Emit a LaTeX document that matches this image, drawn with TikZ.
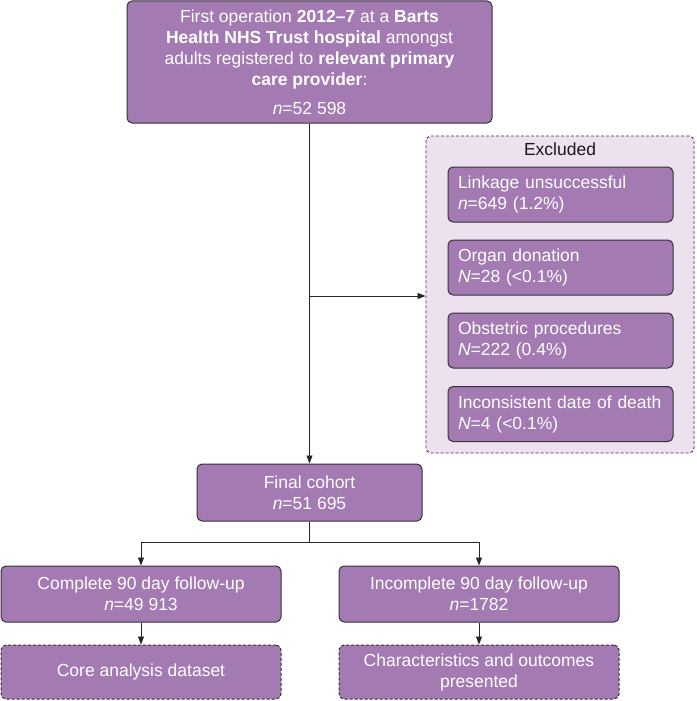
\documentclass[tikz,border=0pt]{standalone}
\usepackage{fontspec}
\setmainfont{Liberation Sans}
\usetikzlibrary{arrows.meta}
\definecolor{boxfill}{RGB}{163,122,178}
\definecolor{exfill}{RGB}{238,225,239}
\definecolor{edge}{RGB}{55,48,58}
\begin{document}
\begin{tikzpicture}[x=1pt,y=-1pt,
  box/.style={draw=edge, line width=1pt, fill=boxfill, rounded corners=5pt, text=white,
    font=\fontsize{17.5}{21}\selectfont, inner sep=0pt, align=center},
  dbox/.style={box, dash pattern=on 3pt off 2pt},
  exbox/.style={box, align=left, text width=205pt, inner xsep=10pt, minimum width=225pt, minimum height=55pt},
  arr/.style={draw=black!85, line width=0.8pt, -{Triangle[length=8pt,width=6pt]}},
  ln/.style={draw=black!85, line width=0.8pt}]
\useasboundingbox (0,0) rectangle (696,701);

\node[box, minimum width=365pt, minimum height=122pt] (top) at (309.5,62)
  {First operation \textbf{2012–7} at a \textbf{Barts}\\
   \textbf{Health NHS Trust hospital} amongst\\
   adults registered to \textbf{relevant primary}\\
   \textbf{care provider}:\\[8pt]
   \textit{n}=52 598};

\node[draw=edge, line width=0.9pt, dash pattern=on 3pt off 2pt, fill=exfill, rounded corners=5pt,
  minimum width=268pt, minimum height=317pt, inner sep=0pt] (excl) at (560,294.5) {};
\node[font=\fontsize{17.5}{21}\selectfont, text=black!90] (exlabel) at (560,149) {Excluded};

\node[exbox] (e1) at (560.5,194.5) {Linkage unsuccessful\\\textit{n}=649 (1.2\%)};
\node[exbox] (e2) at (560.5,267.5) {Organ donation\\\textit{N}=28 (<0.1\%)};
\node[exbox] (e3) at (560.5,340.5) {Obstetric procedures\\\textit{N}=222 (0.4\%)};
\node[exbox] (e4) at (560.5,414) {Inconsistent date of death\\\textit{N}=4 (<0.1\%)};

\node[box, minimum width=225pt, minimum height=57pt] (final) at (309.5,492.5)
  {Final cohort\\\textit{n}=51 695};

\node[box, minimum width=280pt, minimum height=56pt] (comp) at (141,594)
  {Complete 90 day follow-up\\\textit{n}=49 913};
\node[box, minimum width=280pt, minimum height=56pt] (incomp) at (479,594)
  {Incomplete 90 day follow-up\\\textit{n}=1782};

\node[dbox, minimum width=280pt, minimum height=54pt] (core) at (141,672)
  {Core analysis dataset};
\node[dbox, minimum width=280pt, minimum height=54pt] (chars) at (479,672)
  {Characteristics and outcomes\\presented};

\coordinate (b1) at (309.5,296);
\coordinate (b2) at (309.5,542);

\draw[arr] (top.south) -- (final.north);
\draw[arr] (b1) -- (excl.west |- b1);
\draw[ln] (final.south) -- (b2);
\draw[arr] (b2) -| (comp.north);
\draw[arr] (b2) -| (incomp.north);
\draw[arr] (comp.south) -- (core.north);
\draw[arr] (incomp.south) -- (chars.north);
\end{tikzpicture}
\end{document}
